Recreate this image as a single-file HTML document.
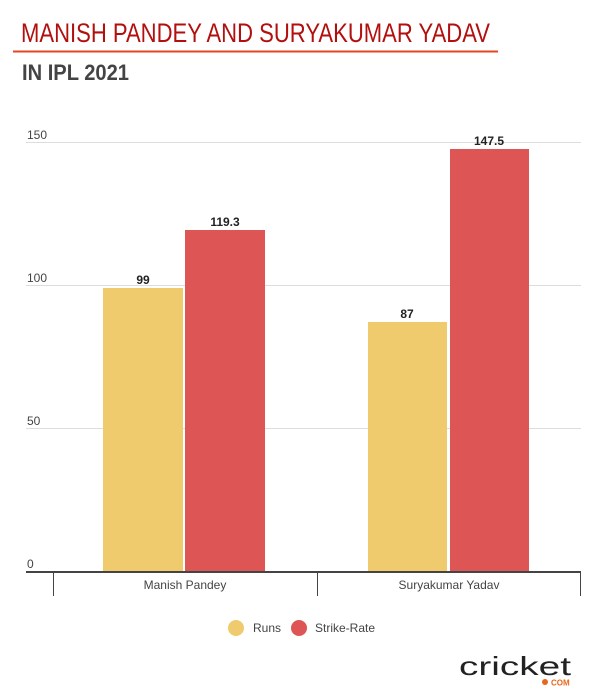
<!DOCTYPE html>
<html><head><style>
body{margin:0;width:600px;height:700px;background:#fff;font-family:"Liberation Sans",sans-serif;position:relative;overflow:hidden}
</style></head><body>
<svg width="600" height="700" style="position:absolute;left:0;top:0">
<text x="21" y="42" font-size="27" fill="#b20f0f" textLength="469" lengthAdjust="spacingAndGlyphs">MANISH PANDEY AND SURYAKUMAR YADAV</text>
<rect x="13" y="50.5" width="485" height="2" fill="#e4471f"/>
<text x="22" y="80" font-size="22" font-weight="bold" fill="#444" textLength="107" lengthAdjust="spacingAndGlyphs">IN IPL 2021</text>
<g stroke="#ddd" stroke-width="1">
<line x1="26" x2="581" y1="142.5" y2="142.5"/>
<line x1="26" x2="581" y1="285.5" y2="285.5"/>
<line x1="26" x2="581" y1="428.5" y2="428.5"/>
</g>
<g font-size="12" fill="#444">
<text x="27" y="139">150</text><text x="27" y="282">100</text><text x="27" y="425">50</text><text x="27" y="568">0</text>
</g>
<rect x="103" y="288" width="80" height="283" fill="#efcb6d"/>
<rect x="185" y="230" width="80" height="341" fill="#dd5555"/>
<rect x="368" y="322" width="79" height="249" fill="#efcb6d"/>
<rect x="450" y="149" width="79" height="422" fill="#dd5555"/>
<g font-size="12" font-weight="bold" fill="#222" text-anchor="middle">
<text x="143" y="284">99</text><text x="225" y="226">119.3</text>
<text x="407" y="318">87</text><text x="489" y="145">147.5</text>
</g>
<rect x="26" y="571" width="555" height="2" fill="#444"/>
<g stroke="#444" stroke-width="1"><line x1="53.5" x2="53.5" y1="572" y2="596"/><line x1="317.5" x2="317.5" y1="572" y2="596"/><line x1="580.5" x2="580.5" y1="572" y2="596"/></g>
<g font-size="12" fill="#444" text-anchor="middle"><text x="185" y="589">Manish Pandey</text><text x="449" y="589">Suryakumar Yadav</text></g>
<circle cx="236" cy="628" r="8" fill="#efcb6d"/><text x="253" y="632" font-size="12" fill="#444">Runs</text>
<circle cx="299" cy="628" r="8" fill="#dd5555"/><text x="315" y="632" font-size="12" fill="#444">Strike-Rate</text>
<text x="459" y="675" font-size="26" fill="#222" textLength="112" lengthAdjust="spacingAndGlyphs">cricket</text>
<circle cx="545" cy="682" r="3" fill="#e8661f"/>
<text x="551" y="685.5" font-size="8" font-weight="bold" fill="#e8661f">COM</text>
</svg>
</body></html>
